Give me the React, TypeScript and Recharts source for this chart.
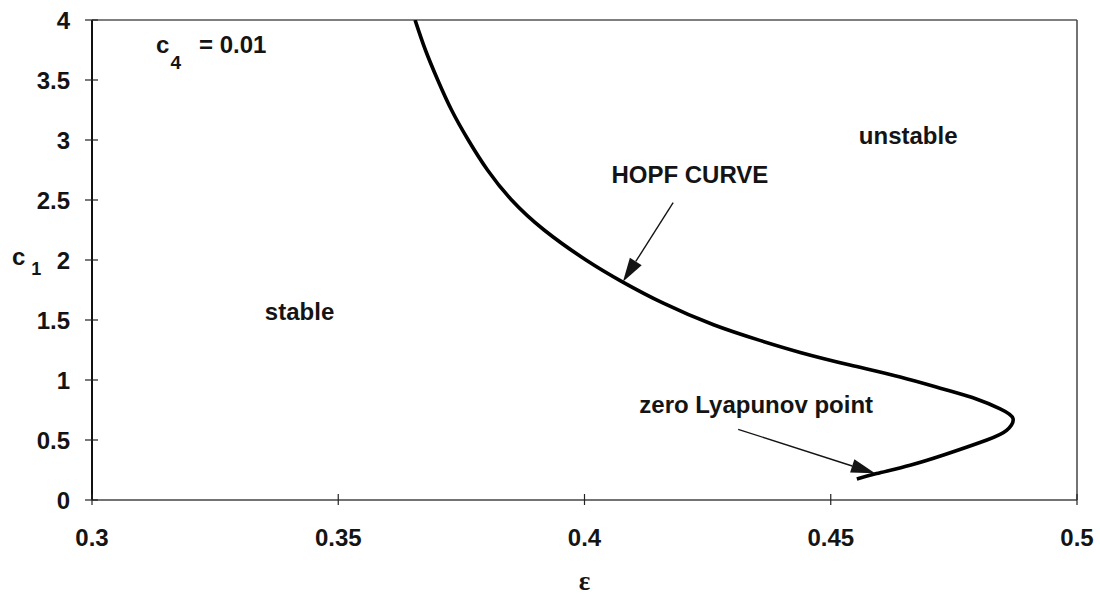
import React from 'react';
import { LineChart, Line, XAxis, YAxis, ReferenceLine, ReferenceDot, Label } from 'recharts';

// Hopf curve (epsilon, c1) in drawing order
const epsValues = [0.3656, 0.3677, 0.3702, 0.373, 0.3764, 0.3803, 0.3852, 0.3918, 0.4003, 0.4076, 0.416, 0.4262, 0.4356, 0.4438, 0.4539, 0.4641, 0.4728, 0.4797, 0.4844, 0.487, 0.4857, 0.4817, 0.4729, 0.4661, 0.4593, 0.4553];
const c1Values = [4.0, 3.75, 3.5, 3.25, 3.0, 2.75, 2.5, 2.25, 2.0, 1.82, 1.64, 1.46, 1.33, 1.23, 1.125, 1.025, 0.925, 0.84, 0.76, 0.68, 0.58, 0.5, 0.375, 0.29, 0.22, 0.175];

const xTicks = [0.3, 0.35, 0.4, 0.45, 0.5];
const xTickLabels = ['0.3', '0.35', '0.4', '0.45', '0.5'];
const yTicks = [0, 0.5, 1, 1.5, 2, 2.5, 3, 3.5, 4];
const yTickLabels = ['0', '0.5', '1', '1.5', '2', '2.5', '3', '3.5', '4'];

const curveData = epsValues.map((eps, i) => ({ eps, c1: c1Values[i] }));

const FONT = '"Liberation Sans", Arial, sans-serif';
const FS = 24;
const FW = 'bold';
const INK = '#141414';
const TICK_OUT = 7;
const TICK_MARGIN = 10;

const YTick = (props: any) => {
  const { x, y, payload } = props;
  const axisX = x + TICK_MARGIN + TICK_OUT;
  const label = yTickLabels[yTicks.indexOf(payload.value)];
  return (
    <g>
      <line x1={axisX - 7} x2={axisX + 6} y1={y} y2={y} stroke="#222" strokeWidth={1.2} />
      <text x={x - 5} y={y} dy={9} textAnchor="end" fontFamily={FONT} fontSize={FS} fontWeight={FW} fill={INK}>
        {label}
      </text>
    </g>
  );
};

const XTick = (props: any) => {
  const { x, y, payload } = props;
  const axisY = y - TICK_MARGIN - TICK_OUT;
  const label = xTickLabels[xTicks.indexOf(payload.value)];
  return (
    <g>
      <line x1={x} x2={x} y1={axisY - 6} y2={axisY + 5} stroke="#222" strokeWidth={1.2} />
      <text x={x} y={y} dy={29} textAnchor="middle" fontFamily={FONT} fontSize={FS} fontWeight={FW} fill={INK}>
        {label}
      </text>
    </g>
  );
};

const Arrow = (props: any) => {
  const { x1, y1, x2, y2 } = props;
  const dx = x2 - x1;
  const dy = y2 - y1;
  const len = Math.sqrt(dx * dx + dy * dy) || 1;
  const ux = dx / len;
  const uy = dy / len;
  const head = 24;
  const half = 7;
  const bx = x2 - ux * head;
  const by = y2 - uy * head;
  return (
    <g>
      <line x1={x1} y1={y1} x2={bx} y2={by} stroke={INK} strokeWidth={1.4} />
      <polygon
        points={`${x2},${y2} ${bx - uy * half},${by + ux * half} ${bx + uy * half},${by - ux * half}`}
        fill={INK}
      />
    </g>
  );
};

const textAt = (text: string, anchor: 'start' | 'middle' | 'end') => (p: any) => (
  <text x={p.cx} y={p.cy} textAnchor={anchor} fontFamily={FONT} fontSize={FS} fontWeight={FW} fill={INK}>
    {text}
  </text>
);

const c4Label = (p: any) => (
  <text x={p.cx} y={p.cy} fontFamily={FONT} fontSize={FS} fontWeight={FW} fill={INK}>
    <tspan>c</tspan>
    <tspan dx={1} dy={16} fontSize={19}>4</tspan>
    <tspan dx={18} dy={-16}>= 0.01</tspan>
  </text>
);

export default function App() {
  return (
    <div style={{ width: 1100, height: 596, background: '#fff' }}>
      <style>{'body{margin:0}'}</style>
      <LineChart
        width={1100}
        height={596}
        data={curveData}
        margin={{ top: 20, right: 23, bottom: 0, left: 0 }}
      >
        <XAxis
          dataKey="eps"
          type="number"
          domain={[0.3, 0.5]}
          ticks={xTicks}
          allowDataOverflow
          height={96}
          axisLine={{ stroke: '#444', strokeWidth: 1.5 }}
          tickLine={false}
          tickSize={TICK_OUT}
          tickMargin={TICK_MARGIN}
          tick={<XTick />}
          interval={0}
        >
          <Label
            content={(p: any) => {
              const vb = p.viewBox;
              return (
                <text
                  x={vb.x + vb.width / 2}
                  y={vb.y + 90}
                  textAnchor="middle"
                  fontFamily='"Liberation Serif", serif'
                  fontWeight="bold"
                  fontSize={27}
                  fill={INK}
                >
                  ε
                </text>
              );
            }}
          />
        </XAxis>
        <YAxis
          dataKey="c1"
          type="number"
          domain={[0, 4]}
          ticks={yTicks}
          allowDataOverflow
          width={92}
          axisLine={{ stroke: '#111', strokeWidth: 2 }}
          tickLine={false}
          tickSize={TICK_OUT}
          tickMargin={TICK_MARGIN}
          tick={<YTick />}
          interval={0}
        >
          <Label
            content={(p: any) => {
              const vb = p.viewBox;
              return (
                <text x={12} y={vb.y + vb.height / 2 + 5} fontFamily={FONT} fontSize={FS} fontWeight={FW} fill={INK}>
                  <tspan>c</tspan>
                  <tspan dx={6} dy={10} fontSize={18}>1</tspan>
                </text>
              );
            }}
          />
        </YAxis>

        <ReferenceLine y={4} stroke="#555" strokeWidth={1.5} />
        <ReferenceLine x={0.5} stroke="#444" strokeWidth={1.5} />

        <Line
          dataKey="c1"
          type="natural"
          stroke="#000"
          strokeWidth={3.6}
          strokeLinejoin="round"
          strokeLinecap="butt"
          dot={false}
          activeDot={false}
          isAnimationActive={false}
        />

        <ReferenceLine segment={[{ x: 0.418, y: 2.4775 }, { x: 0.4078, y: 1.819 }]} shape={Arrow} />
        <ReferenceLine segment={[{ x: 0.4312, y: 0.589 }, { x: 0.459, y: 0.2225 }]} shape={Arrow} />

        <ReferenceDot x={0.313} y={3.725} r={0} shape={c4Label} />
        <ReferenceDot x={0.4557} y={2.967} r={0} shape={textAt('unstable', 'start')} />
        <ReferenceDot x={0.4214} y={2.642} r={0} shape={textAt('HOPF CURVE', 'middle')} />
        <ReferenceDot x={0.3351} y={1.5} r={0} shape={textAt('stable', 'start')} />
        <ReferenceDot x={0.4586} y={0.725} r={0} shape={textAt('zero Lyapunov point', 'end')} />
      </LineChart>
    </div>
  );
}
